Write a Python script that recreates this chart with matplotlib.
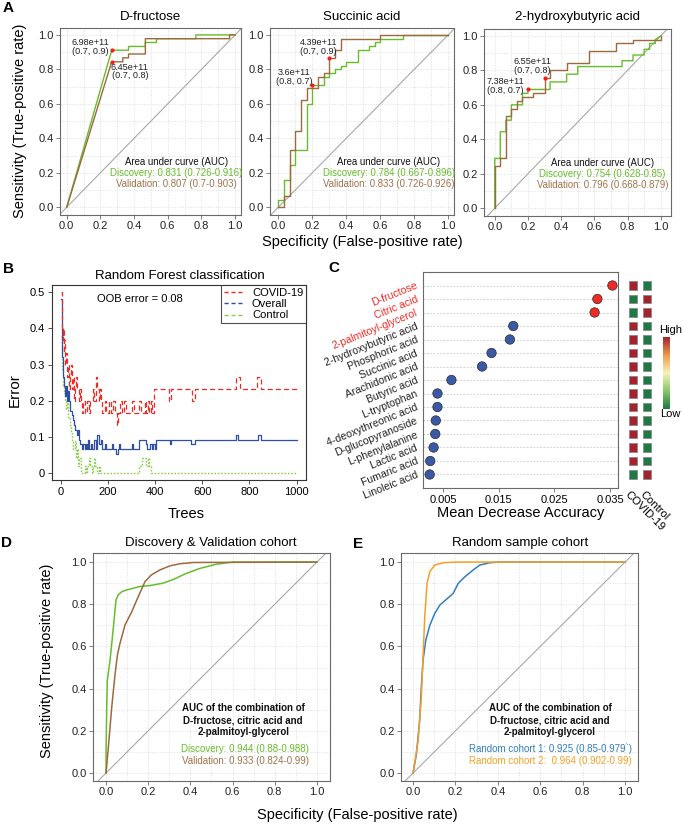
import numpy as np
import matplotlib
matplotlib.use("Agg")
import matplotlib.pyplot as plt
from matplotlib import font_manager
from matplotlib.colors import LinearSegmentedColormap
from matplotlib.lines import Line2D
from matplotlib.patches import Rectangle

# ======================= DATA =======================
# ---- Panel A: single-metabolite ROC curves (x = 1 - specificity, y = sensitivity)
fru_disc_fpr = [0, 0.267, 0.367, 0.367, 0.467, 0.467, 0.533, 0.533, 0.767, 0.767, 1.0]
fru_disc_tpr = [0, 0.911, 0.911, 0.933, 0.933, 0.956, 0.956, 0.978, 0.978, 1.0, 1.0]
fru_val_fpr = [0, 0.267, 0.333, 0.333, 0.367, 0.367, 0.467, 0.467, 0.967, 0.967, 1.0]
fru_val_tpr = [0, 0.844, 0.844, 0.867, 0.867, 0.889, 0.889, 0.978, 0.978, 1.0, 1.0]
fru_thr_fpr = [0.267, 0.267]
fru_thr_tpr = [0.911, 0.844]
fru_thr_labels = ["6.98e+11\n(0.7, 0.9)", "6.45e+11\n(0.7, 0.8)"]
fru_auc = ["Discovery: 0.831 (0.726-0.916)", "Validation: 0.807 (0.7-0.903)"]

suc_disc_fpr = [0, 0, 0.033, 0.033, 0.067, 0.067, 0.1, 0.1, 0.167, 0.167, 0.2, 0.2, 0.267, 0.267,
                0.3, 0.3, 0.333, 0.333, 0.367, 0.367, 0.4, 0.4, 0.467, 0.467, 0.533, 0.533,
                0.567, 0.567, 0.6, 0.6, 0.733, 0.733, 1.0]
suc_disc_tpr = [0, 0.044, 0.044, 0.156, 0.156, 0.244, 0.244, 0.333, 0.333, 0.6, 0.6, 0.711, 0.711, 0.756,
                0.756, 0.778, 0.778, 0.8, 0.8, 0.822, 0.822, 0.844, 0.844, 0.911, 0.911, 0.933,
                0.933, 0.956, 0.956, 0.978, 0.978, 1.0, 1.0]
suc_val_fpr = [0, 0.033, 0.033, 0.067, 0.067, 0.1, 0.1, 0.133, 0.133, 0.167, 0.167, 0.233, 0.233,
               0.267, 0.267, 0.3, 0.3, 0.333, 0.333, 0.367, 0.367, 0.6, 0.6, 1.0]
suc_val_tpr = [0, 0, 0.067, 0.067, 0.333, 0.333, 0.444, 0.444, 0.622, 0.622, 0.689, 0.689, 0.756,
               0.756, 0.778, 0.778, 0.867, 0.867, 0.911, 0.911, 0.978, 0.978, 1.0, 1.0]
suc_thr_fpr = [0.3, 0.2]
suc_thr_tpr = [0.867, 0.711]
suc_thr_labels = ["4.39e+11\n(0.7, 0.9)", "3.6e+11\n(0.8, 0.7)"]
suc_auc = ["Discovery: 0.784 (0.667-0.896)", "Validation: 0.833 (0.726-0.926)"]

hyd_disc_fpr = [0, 0, 0.033, 0.033, 0.067, 0.067, 0.1, 0.1, 0.167, 0.167, 0.2, 0.2, 0.333, 0.333,
                0.433, 0.433, 0.5, 0.5, 0.767, 0.767, 0.833, 0.833, 0.9, 0.9, 0.933, 0.933,
                0.967, 0.967, 1.0]
hyd_disc_tpr = [0, 0.289, 0.289, 0.444, 0.444, 0.511, 0.511, 0.6, 0.6, 0.667, 0.667, 0.689, 0.689, 0.733,
                0.733, 0.778, 0.778, 0.822, 0.822, 0.856, 0.856, 0.889, 0.889, 0.922, 0.922, 0.956,
                0.956, 0.978, 1.0]
hyd_val_fpr = [0, 0, 0.033, 0.033, 0.067, 0.067, 0.1, 0.1, 0.133, 0.133, 0.167, 0.167, 0.233, 0.233,
               0.3, 0.3, 0.333, 0.333, 0.433, 0.433, 0.567, 0.567, 0.733, 0.733, 0.833, 0.833,
               1.0, 1.0]
hyd_val_tpr = [0, 0.244, 0.244, 0.289, 0.289, 0.533, 0.533, 0.578, 0.578, 0.622, 0.622, 0.644, 0.644,
               0.667, 0.667, 0.756, 0.756, 0.8, 0.8, 0.844, 0.844, 0.911, 0.911, 0.956, 0.956, 0.978,
               0.978, 1.0]
hyd_thr_fpr = [0.3, 0.2]
hyd_thr_tpr = [0.756, 0.689]
hyd_thr_labels = ["6.55e+11\n(0.7, 0.8)", "7.38e+11\n(0.8, 0.7)"]
hyd_auc = ["Discovery: 0.754 (0.628-0.85)", "Validation: 0.796 (0.668-0.879)"]

# ---- Panel B: random forest error rates vs number of trees (values change at these trees)
covid_trees = [1, 3, 5, 8, 10, 12, 15, 18, 22, 26, 30, 34, 38, 42, 46, 50, 55, 60, 65, 70, 75, 80, 85,
               90, 95, 100, 110, 118, 125, 135, 140, 150, 155, 160, 165, 170, 175, 185, 192, 205,
               212, 222, 228, 236, 240, 250, 258, 268, 275, 300, 310, 330, 340, 355, 362, 368, 375,
               382, 388, 393, 460, 466, 555, 570, 742, 758, 833, 848, 1000]
covid_err = [0.5, 0.433, 0.4, 0.367, 0.4, 0.333, 0.367, 0.3, 0.333, 0.267, 0.3, 0.233, 0.267, 0.3,
             0.233, 0.267, 0.2, 0.233, 0.267, 0.233, 0.2, 0.233, 0.2, 0.167, 0.2, 0.167, 0.2, 0.167,
             0.2, 0.233, 0.2, 0.267, 0.233, 0.2, 0.233, 0.2, 0.167, 0.2, 0.167, 0.2, 0.167, 0.2,
             0.167, 0.133, 0.167, 0.2, 0.167, 0.2, 0.167, 0.2, 0.167, 0.2, 0.167, 0.2, 0.167, 0.2,
             0.167, 0.2, 0.167, 0.233, 0.2, 0.233, 0.2, 0.233, 0.267, 0.233, 0.267, 0.233, 0.233]
overall_trees = [1, 3, 5, 8, 12, 16, 20, 25, 30, 35, 40, 45, 50, 55, 60, 66, 72, 76, 82, 88, 95, 100,
                 105, 110, 115, 120, 128, 133, 140, 148, 155, 160, 168, 173, 185, 190, 215, 220, 235,
                 240, 245, 250, 300, 305, 330, 362, 367, 380, 385, 392, 398, 402, 462, 466, 552, 568,
                 745, 752, 835, 848, 1000]
overall_err = [0.48, 0.4, 0.32, 0.267, 0.24, 0.213, 0.24, 0.2, 0.227, 0.2, 0.173, 0.16, 0.147, 0.133,
               0.12, 0.107, 0.12, 0.093, 0.08, 0.067, 0.08, 0.067, 0.08, 0.067, 0.093, 0.067, 0.08,
               0.067, 0.093, 0.067, 0.107, 0.08, 0.093, 0.067, 0.08, 0.067, 0.08, 0.067, 0.053, 0.067,
               0.08, 0.067, 0.08, 0.067, 0.093, 0.08, 0.067, 0.08, 0.067, 0.08, 0.067, 0.093, 0.08,
               0.093, 0.08, 0.093, 0.107, 0.093, 0.107, 0.093, 0.093]
control_trees = [1, 3, 6, 9, 13, 17, 22, 27, 32, 38, 43, 48, 53, 58, 62, 67, 72, 78, 83, 100, 105, 110,
                 118, 122, 130, 135, 140, 145, 152, 160, 165, 332, 345, 360, 368, 375, 382, 1000]
control_err = [0.378, 0.333, 0.289, 0.244, 0.222, 0.2, 0.178, 0.2, 0.156, 0.133, 0.111, 0.089, 0.067,
               0.089, 0.044, 0.067, 0.022, 0.044, 0.0, 0.022, 0.0, 0.022, 0.044, 0.022, 0.0, 0.022,
               0.044, 0.022, 0.0, 0.022, 0.0, 0.022, 0.044, 0.022, 0.044, 0.022, 0.0, 0.0]
rf_labels = ["COVID-19", "Overall", "Control"]
oob_text = "OOB error = 0.08"

# ---- Panel C: mean decrease accuracy + group level heatmap (1 = high, 0 = low)
mda_names = ["D-fructose", "Citric acid", "2-palmitoyl-glycerol", "2-hydroxybutyric acid",
             "Phosphoric acid", "Succinic acid", "Arachidonic acid", "Butyric acid", "L-tryptophan",
             "4-deoxythreonic acid", "D-glucopyranoside", "L-phenylalanine", "Lactic acid",
             "Fumaric acid", "Linoleic acid"]
mda_values = [0.0354, 0.0327, 0.0322, 0.0176, 0.0170, 0.0137, 0.0120, 0.0065, 0.0040, 0.0040,
              0.0037, 0.0036, 0.0033, 0.0027, 0.0026]
n_selected = 3
heat_covid = [1, 0, 0, 1, 1, 1, 1, 1, 1, 1, 1, 1, 1, 1, 0]
heat_control = [0, 1, 1, 0, 0, 0, 0, 0, 0, 0, 0, 0, 0, 0, 1]
heat_cols = ["COVID-19", "Control"]
mda_ticks = [0.005, 0.015, 0.025, 0.035]

# ---- Panel D: combined model ROC (discovery / validation)
d_disc_fpr = [0, 0.0, 0.003, 0.006, 0.019, 0.035, 0.047, 0.058, 0.075, 0.098, 0.16, 0.21, 0.27,
              0.32, 0.38, 0.445, 0.524, 0.6, 1.0]
d_disc_tpr = [0, 0.1, 0.314, 0.44, 0.536, 0.694, 0.82, 0.845, 0.86, 0.868, 0.884, 0.889, 0.9,
              0.918, 0.946, 0.97, 0.99, 1.0, 1.0]
d_val_fpr = [0, 0.011, 0.027, 0.043, 0.054, 0.066, 0.09, 0.122, 0.153, 0.185, 0.216, 0.256, 0.303,
             0.35, 0.414, 1.0]
d_val_tpr = [0, 0.124, 0.314, 0.472, 0.56, 0.615, 0.702, 0.765, 0.837, 0.908, 0.94, 0.963, 0.982,
             0.992, 0.998, 1.0]
d_auc = ["Discovery: 0.944 (0.88-0.988)", "Validation: 0.933 (0.824-0.99)"]

# ---- Panel E: combined model ROC (random cohorts)
e_r1_fpr = [0, 0.016, 0.031, 0.039, 0.047, 0.06, 0.079, 0.102, 0.126, 0.157, 0.189, 0.213, 0.244,
            0.283, 0.315, 0.362, 0.409, 1.0]
e_r1_tpr = [0, 0.092, 0.25, 0.408, 0.535, 0.63, 0.70, 0.756, 0.796, 0.823, 0.851, 0.899, 0.93,
            0.962, 0.986, 0.997, 1.0, 1.0]
e_r2_fpr = [0, 0.024, 0.039, 0.047, 0.055, 0.066, 0.079, 0.102, 0.142, 0.205, 1.0]
e_r2_tpr = [0, 0.155, 0.36, 0.55, 0.74, 0.9, 0.954, 0.986, 0.997, 1.0, 1.0]
e_auc = ["Random cohort 1: 0.925 (0.85-0.979`)", "Random cohort 2:  0.964 (0.902-0.99)"]

combo_title = "AUC of the combination of\nD-fructose, citric acid and\n2-palmitoyl-glycerol"

# ======================= STYLE =======================
names = {f.name for f in font_manager.fontManager.ttflist}
MAIN = "Liberation Sans" if "Liberation Sans" in names else "DejaVu Sans"
NARROW = "Liberation Sans Narrow" if "Liberation Sans Narrow" in names else MAIN
plt.rcParams["font.family"] = [MAIN, "DejaVu Sans"]

GREEN = "#66BD2B"
BROWN = "#9C6A3E"
BROWN_T = "#A0724A"
FRAME = "#6A6A6A"
GRIDC = "#DCDCDC"
DIAG = "#A8A8A8"
RED = "#EE2A24"
BLUE = "#2E4FA3"
LGREEN = "#8ACD4E"
E_BLUE = "#2F7EC1"
E_ORANGE = "#F5A025"

W, H = 683, 824
fig = plt.figure(figsize=(W / 100, H / 100), dpi=100)


def px_axes(l, t, r, b):
    return fig.add_axes([l / W, 1 - b / H, (r - l) / W, (b - t) / H])


def ftext(x, y, s, **kw):
    kw.setdefault("ha", "center")
    kw.setdefault("va", "center")
    return fig.text(x / W, 1 - y / H, s, **kw)


def roc_axes(box, xlim, ylim):
    ax = px_axes(*box)
    ax.set_xlim(xlim)
    ax.set_ylim(ylim)
    major = [0, 0.2, 0.4, 0.6, 0.8, 1.0]
    ax.set_xticks(major)
    ax.set_yticks(major)
    ax.set_xticklabels([f"{v:.1f}" for v in major])
    ax.set_yticklabels([f"{v:.1f}" for v in major])
    for v in np.arange(0, 1.001, 0.1):
        ax.axvline(v, color=GRIDC, lw=0.5, ls=(0, (2, 2)), zorder=0)
        ax.axhline(v, color=GRIDC, lw=0.5, ls=(0, (2, 2)), zorder=0)
    ax.plot([-0.5, 1.5], [-0.5, 1.5], color=DIAG, lw=0.8, zorder=1)
    for sp in ax.spines.values():
        sp.set_color(FRAME)
        sp.set_linewidth(0.8)
    ax.tick_params(length=3, width=0.6, color=FRAME, labelsize=8, pad=1.5, labelcolor="#222222")
    return ax


# ======================= PANEL A =======================
A_specs = [
    ((60, 28, 241, 215), (-0.04, 1.035), "D-fructose", fru_disc_fpr, fru_disc_tpr, fru_val_fpr,
     fru_val_tpr, fru_thr_fpr, fru_thr_tpr, fru_thr_labels, [(0.14, 0.93), (0.375, 0.787)], fru_auc),
    ((270, 28, 454, 215), (-0.049, 1.034), "Succinic acid", suc_disc_fpr, suc_disc_tpr, suc_val_fpr,
     suc_val_tpr, suc_thr_fpr, suc_thr_tpr, suc_thr_labels, [(0.235, 0.93), (0.095, 0.757)], suc_auc),
    ((484, 29, 671, 216), (-0.065, 1.062), "2-hydroxybutyric acid", hyd_disc_fpr, hyd_disc_tpr,
     hyd_val_fpr, hyd_val_tpr, hyd_thr_fpr, hyd_thr_tpr, hyd_thr_labels,
     [(0.225, 0.825), (0.062, 0.708)], hyd_auc),
]
for (box, xl, title, dfp, dtp, vfp, vtp, tfp, ttp, tlab, tpos, auc) in A_specs:
    ax = roc_axes(box, xl, (-0.045, 1.04))
    ax.plot(dfp, dtp, color=GREEN, lw=1.0, zorder=3)
    ax.plot(vfp, vtp, color=BROWN, lw=1.0, zorder=3)
    ax.scatter(tfp, ttp, s=9, color="#FF1A1A", zorder=5, linewidths=0)
    for lab, (tx, ty) in zip(tlab, tpos):
        ax.text(tx, ty, lab, ha="center", va="center", fontsize=6.6, family=NARROW,
                color="#222222", linespacing=0.95, zorder=6)
    ax.text(0.65, 0.263, "Area under curve (AUC)", ha="center", va="center", fontsize=6.9,
            family=NARROW, color="#111111")
    ax.text(0.65, 0.198, auc[0], ha="center", va="center", fontsize=6.9, family=NARROW, color=GREEN)
    ax.text(0.65, 0.133, auc[1], ha="center", va="center", fontsize=6.9, family=NARROW, color=BROWN_T)
    l, t, r, b = box
    ftext((l + r) / 2, 17, title, fontsize=9.5)

ftext(20, 121, "Sensitivity (True-positive rate)", rotation=90, fontsize=10.5)
ftext(362, 242, "Specificity (False-positive rate)", fontsize=10.5)

# ======================= PANEL B =======================
axb = px_axes(52, 285, 306, 480)
axb.set_xlim(-38, 1040)
axb.set_ylim(-0.018, 0.52)
axb.step(overall_trees, overall_err, where="post", color=BLUE, lw=0.9, zorder=3)
axb.step(covid_trees, covid_err, where="post", color=RED, lw=0.9, ls=(0, (4, 2.5)), zorder=4)
axb.step(control_trees, control_err, where="post", color=LGREEN, lw=1.0, ls=(0, (1.2, 1.2)), zorder=2)
axb.set_xticks([0, 200, 400, 600, 800, 1000])
axb.set_yticks([0, 0.1, 0.2, 0.3, 0.4, 0.5])
axb.set_yticklabels(["0", "0.1", "0.2", "0.3", "0.4", "0.5"])
for sp in axb.spines.values():
    sp.set_color("#333333")
    sp.set_linewidth(0.8)
axb.tick_params(length=3, width=0.6, color="#333333", labelsize=8, pad=2)
handles = [Line2D([], [], color=c, lw=1.0, ls=(0, (3, 2))) for c in (RED, BLUE, LGREEN)]
leg = axb.legend(handles, rf_labels, loc="upper right", bbox_to_anchor=(1, 1), borderaxespad=0,
                 fontsize=8, frameon=True, fancybox=False, handlelength=1.6, handletextpad=0.9,
                 borderpad=0.25, labelspacing=0.12)
leg.get_frame().set_edgecolor("#222222")
leg.get_frame().set_linewidth(0.8)
ftext(140, 299, oob_text, fontsize=8)
ftext(180, 276, "Random Forest classification", fontsize=9.5)
ftext(15, 390, "Error", rotation=90, fontsize=11)
ftext(186, 514, "Trees", fontsize=10.5)

# ======================= PANEL C =======================
cmap = LinearSegmentedColormap.from_list(
    "hl", ["#1E7A45", "#8CC66A", "#F6F3BC", "#EE9B4A", "#A5222E"])
axc = px_axes(423, 272, 618, 488)
n = len(mda_names)
ypos = np.arange(n, 0, -1)
axc.set_ylim(0, n + 1)
axc.set_xlim(0.0014, 0.0364)
for y in ypos:
    axc.axhline(y, color="#C8C8C8", lw=0.6, ls=(0, (2, 2)), zorder=0)
dot_cols = [RED if i < n_selected else "#3A5AA8" for i in range(n)]
axc.scatter(mda_values, ypos, s=46, c=dot_cols, edgecolors="#2A2A2A", linewidths=0.5, zorder=3)
axc.set_yticks(ypos)
axc.set_yticklabels(mda_names, rotation=22, ha="right", va="center", rotation_mode="anchor",
                    fontsize=7.6)
for i, lab in enumerate(axc.get_yticklabels()):
    lab.set_color(RED if i < n_selected else "#222222")
axc.set_xticks(mda_ticks)
axc.set_xticklabels([f"{v:.3f}" for v in mda_ticks])
axc.tick_params(axis="y", length=0, pad=4)
axc.tick_params(axis="x", length=3, width=0.6, color=FRAME, labelsize=8, pad=2)
for sp in axc.spines.values():
    sp.set_color(FRAME)
    sp.set_linewidth(0.8)
ftext(521, 513, "Mean Decrease Accuracy", fontsize=10.5)

axh = px_axes(626, 272, 654, 488)
axh.set_xlim(0.5, 2.5)
axh.set_ylim(0, n + 1)
axh.axis("off")
for j, col in enumerate([heat_covid, heat_control]):
    for y, v in zip(ypos, col):
        axh.add_patch(Rectangle((j + 1 - 0.29, y - 0.3), 0.58, 0.6, facecolor=cmap(float(v)),
                                edgecolor="#8A8A8A", lw=0.6))
ftext(630, 489, heat_cols[0], rotation=-45, ha="left", va="top", rotation_mode="anchor", fontsize=8)
ftext(645, 489, heat_cols[1], rotation=-45, ha="left", va="top", rotation_mode="anchor", fontsize=8)

axcb = px_axes(663, 337, 670, 409)
axcb.imshow(np.linspace(1, 0, 200)[:, None], aspect="auto", cmap=cmap, extent=[0, 1, 0, 1])
axcb.axis("off")
ftext(671, 330, "High", fontsize=8)
ftext(670, 414, "Low", fontsize=8)

# ======================= PANELS D & E =======================
axd = roc_axes((93, 553, 330, 781), (-0.062, 1.062), (-0.038, 1.043))
axd.plot(d_disc_fpr, d_disc_tpr, color=GREEN, lw=1.1, zorder=3)
axd.plot(d_val_fpr, d_val_tpr, color=BROWN, lw=1.1, zorder=3)
axd.text(0.65, 0.25, combo_title, ha="center", va="center", fontsize=7, family=NARROW,
         fontweight="bold", linespacing=1.25, color="#111111")
axd.text(0.66, 0.113, d_auc[0], ha="center", va="center", fontsize=7, family=NARROW, color=GREEN)
axd.text(0.66, 0.056, d_auc[1], ha="center", va="center", fontsize=7, family=NARROW, color=BROWN_T)

axe = roc_axes((401, 553, 638, 781), (-0.057, 1.061), (-0.038, 1.043))
axe.plot(e_r1_fpr, e_r1_tpr, color=E_BLUE, lw=1.1, zorder=3)
axe.plot(e_r2_fpr, e_r2_tpr, color=E_ORANGE, lw=1.1, zorder=3)
axe.text(0.646, 0.25, combo_title, ha="center", va="center", fontsize=7, family=NARROW,
         fontweight="bold", linespacing=1.25, color="#111111")
axe.text(0.646, 0.113, e_auc[0], ha="center", va="center", fontsize=7, family=NARROW, color=E_BLUE)
axe.text(0.646, 0.056, e_auc[1], ha="center", va="center", fontsize=7, family=NARROW, color=E_ORANGE)

ftext(211, 543, "Discovery & Validation cohort", fontsize=9.5)
ftext(520, 543, "Random sample cohort", fontsize=9.5)
ftext(47, 661, "Sensitivity (True-positive rate)", rotation=90, fontsize=10.5)
ftext(357, 815, "Specificity (False-positive rate)", fontsize=10.5)

# ======================= PANEL LETTERS =======================
for letter, (x, y) in zip("ABCDE", [(8, 8), (8, 269), (334, 268), (7, 543), (358, 544)]):
    ftext(x, y, letter, fontsize=11, fontweight="bold")

fig.savefig("out.png", dpi=100)
